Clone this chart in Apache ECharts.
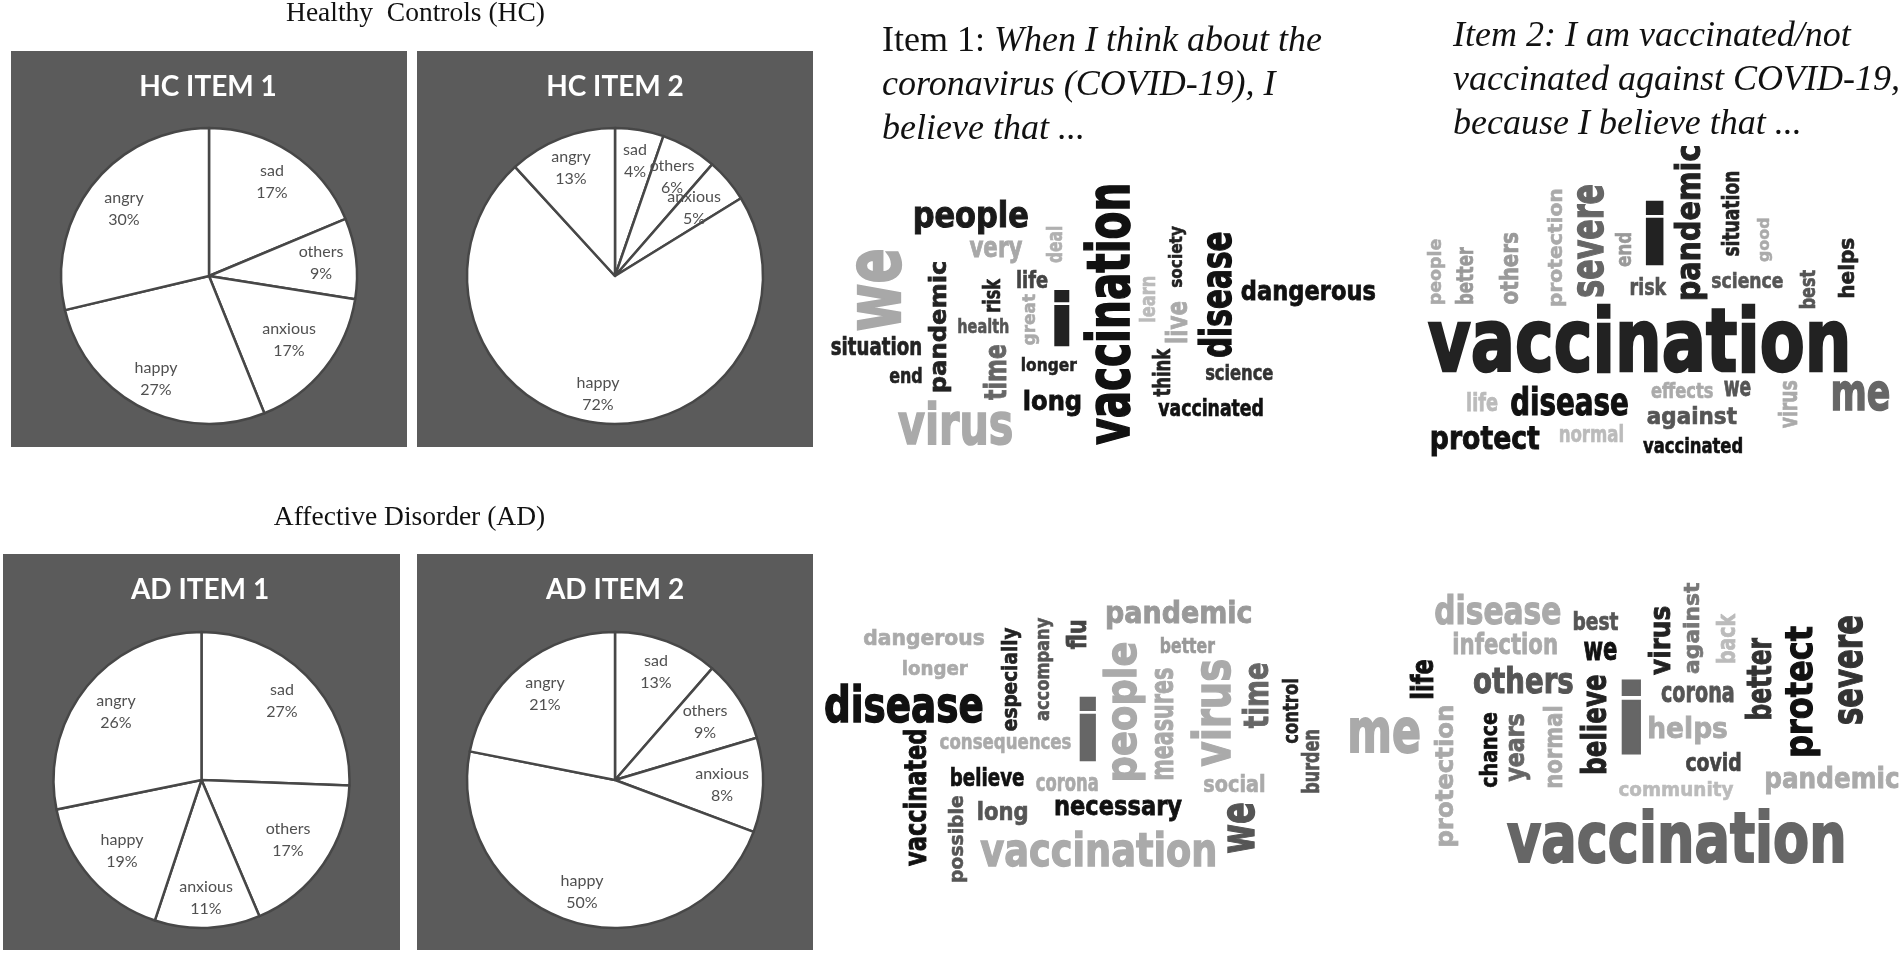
<!DOCTYPE html>
<html>
<head>
<meta charset="utf-8">
<title>Pie charts and word clouds</title>
<style>
    html, body { margin: 0; padding: 0; background: #fff; }
    #chart { width: 1902px; height: 954px; }
</style>
<script src="https://cdn.jsdelivr.net/npm/echarts@6/dist/echarts.min.js"></script>
</head>
<body>
<div id="chart"></div>
<script>
// pie categories, clockwise from 12 o'clock
const emotions = ["sad", "others", "anxious", "happy", "angry"];

// percentages as printed on the slices
const hcItem1Printed = [17, 9, 17, 27, 30];
const hcItem2Printed = [4, 6, 5, 72, 13];
const adItem1Printed = [27, 17, 11, 19, 26];
const adItem2Printed = [13, 9, 8, 50, 21];

// slice sizes as drawn, measured from the wedge angles (they differ a bit from the printed ones)
const hcItem1Drawn = [18.7, 8.8, 16.4, 27.4, 28.7];
const hcItem2Drawn = [5.3, 6.1, 4.8, 72, 11.8];
const adItem1Drawn = [25.6, 18, 11.5, 16.7, 28.2];
const adItem2Drawn = [11.4, 9, 10.3, 47.4, 21.9];

// word clouds: words, grey level of each word
const hcItem1Words = ["people", "very", "deal", "vaccination", "we", "pandemic", "risk", "life", "i", "learn", "society", "disease", "dangerous", "health", "great", "live", "situation", "end", "time", "longer", "think", "science", "long", "vaccinated", "virus"];
const hcItem1Greys = [26, 168, 176, 17, 168, 34, 34, 68, 34, 187, 34, 17, 17, 85, 170, 170, 34, 34, 102, 34, 34, 51, 17, 17, 170];
const hcItem2Words = ["people", "better", "others", "protection", "severe", "end", "i", "risk", "pandemic", "situation", "good", "science", "best", "helps", "vaccination", "effects", "we", "life", "disease", "virus", "me", "against", "protect", "normal", "vaccinated"];
const hcItem2Greys = [170, 153, 153, 170, 102, 153, 34, 85, 34, 34, 170, 85, 85, 34, 34, 170, 85, 187, 17, 170, 102, 85, 17, 187, 17];
const adItem1Words = ["pandemic", "dangerous", "especially", "accompany", "flu", "better", "longer", "people", "disease", "measures", "virus", "time", "control", "i", "burden", "vaccinated", "consequences", "believe", "corona", "social", "possible", "long", "necessary", "we", "vaccination"];
const adItem1Greys = [153, 170, 34, 85, 68, 153, 170, 170, 17, 170, 170, 102, 34, 102, 85, 17, 170, 17, 170, 170, 85, 85, 17, 85, 170];
const adItem2Words = ["disease", "best", "virus", "against", "back", "severe", "protect", "better", "infection", "we", "life", "others", "corona", "i", "believe", "helps", "protection", "me", "chance", "years", "normal", "covid", "pandemic", "community", "vaccination"];
const adItem2Greys = [170, 85, 34, 119, 187, 51, 17, 51, 170, 17, 17, 85, 85, 102, 34, 170, 170, 170, 17, 102, 170, 68, 170, 187, 102];

// layout only: word boxes [x0, y0, x1, y1] in cloud units, same order as the word lists
const hcItem1Boxes = [[265,600,582,705],[418,722,567,790],[632,680,680,788],[738,555,868,1335],[97,750,228,992],[303,785,368,1175],[455,835,505,935],[552,810,637,865],[655,868,698,1038],[892,830,940,965],[975,678,1025,862],[1060,697,1155,1072],[1180,838,1555,918],[387,952,528,1000],[567,882,615,1035],[968,905,1030,1028],[32,1010,283,1068],[195,1100,285,1150],[455,1035,522,1200],[565,1072,720,1125],[928,1045,980,1190],[1080,1092,1268,1142],[572,1165,730,1248],[947,1192,1240,1250],[218,1200,538,1335]];
const hcItem2Boxes = [[140,718,195,912],[228,740,283,912],[358,698,417,912],[503,568,560,918],[588,555,672,890],[705,698,755,800],[798,600,852,795],[753,832,862,888],[885,438,985,898],[1025,515,1080,768],[1130,655,1180,785],[997,812,1210,865],[1258,810,1310,925],[1372,715,1438,892],[143,910,1405,1118],[815,1142,1000,1195],[1033,1140,1113,1190],[262,1175,353,1235],[393,1158,745,1248],[1195,1142,1255,1285],[1360,1140,1530,1235],[803,1218,1072,1290],[155,1278,480,1370],[540,1272,730,1328],[790,1310,1088,1362]];
const adItem1Boxes = [[895,88,1330,180],[162,175,525,240],[575,172,638,482],[685,143,733,452],[768,152,833,238],[1058,198,1222,250],[280,270,477,330],[882,218,1012,630],[45,342,520,462],[1038,295,1097,628],[1145,270,1270,590],[1303,280,1383,475],[1422,328,1473,520],[812,382,862,575],[1483,480,1538,668],[280,480,352,888],[392,498,787,550],[425,590,645,650],[682,620,868,665],[1188,612,1370,668],[415,678,473,935],[507,695,655,768],[740,688,1122,755],[1255,700,1342,850],[513,780,1222,893]];
const adItem2Boxes = [[265,70,615,165],[652,122,777,182],[858,110,922,315],[955,38,1015,310],[1048,130,1105,278],[1385,138,1458,462],[1242,168,1342,558],[1130,202,1205,447],[317,187,605,255],[680,215,772,272],[195,270,262,385],[373,285,650,372],[897,345,1098,398],[785,330,840,552],[668,315,745,610],[862,437,1080,522],[262,408,330,828],[28,438,222,550],[388,428,440,652],[470,432,530,635],[565,410,622,652],[965,545,1118,605],[1188,588,1558,672],[778,632,1098,692],[465,715,1405,882]];

// layout only: pie label centres in px
const hcItem1Labels = [[272,182],[321,263],[289,340],[156,379],[124,209]];
const hcItem2Labels = [[635,161],[672,177],[694,208],[598,394],[571,168]];
const adItem1Labels = [[282,701],[288,840],[206,898],[122,851],[116,712]];
const adItem2Labels = [[656,672],[705,722],[722,785],[582,892],[545,694]];

const PANEL = "#5b5b5b";
const pieRadius = 148;

const chart = echarts.init(document.getElementById("chart"), null, {renderer: "canvas"});

function panelRect(x0, y0, x1, y1) {
    return {
        type: "rect",
        silent: true,
        shape: {x: x0, y: y0, width: x1 - x0, height: y1 - y0},
        style: {fill: PANEL}
    };
}

function panelTitle(text, x, y) {
    return {
        text: text,
        left: x,
        top: y,
        textAlign: "center",
        textVerticalAlign: "middle",
        padding: 0,
        textStyle: {fontFamily: "Lato", fontWeight: 700, fontSize: 28, color: "#fff", letterSpacing: 2.2}
    };
}

function captionTitle(text, x, y) {
    return {
        text: text,
        left: x,
        top: y,
        textAlign: "center",
        textVerticalAlign: "middle",
        padding: 0,
        textStyle: {fontFamily: "Liberation Serif", fontWeight: 400, fontSize: 27.5, color: "#111"}
    };
}

function itemTitle(text, x, y) {
    return {
        text: text,
        left: x,
        top: y,
        padding: 0,
        textStyle: {
            fontFamily: "Liberation Serif",
            fontWeight: 400,
            fontSize: 36,
            lineHeight: 44,
            rich: {
                n: {fontFamily: "Liberation Serif", fontWeight: 400, fontSize: 36, lineHeight: 44, color: "#111"},
                i: {fontFamily: "Liberation Serif", fontWeight: 400, fontSize: 36, lineHeight: 44, color: "#111", fontStyle: "italic"}
            }
        }
    };
}

function pieSeries(center, drawn, printed, labelPos) {
    return {
        type: "pie",
        silent: true,
        clockwise: true,
        startAngle: 90,
        center: center,
        radius: pieRadius,
        avoidLabelOverlap: false,
        data: emotions.map(function (name, i) {
            return {name: name, value: drawn[i]};
        }),
        itemStyle: {color: "#fff", borderColor: "#474747", borderWidth: 2.5},
        label: {
            show: true,
            position: "inside",
            formatter: function (p) {
                return p.name + "\n" + printed[p.dataIndex] + "%";
            },
            fontFamily: "Lato",
            fontSize: 16,
            lineHeight: 22,
            color: "#505050"
        },
        labelLine: {show: false},
        labelLayout: function (p) {
            return {x: labelPos[p.dataIndex][0], y: labelPos[p.dataIndex][1], align: "center", verticalAlign: "middle"};
        }
    };
}

// heavy condensed look of the clouds: bold face squeezed to the word's box, thickened with a small stroke
const measureCtx = document.createElement("canvas").getContext("2d");
const WORD_FONT = 'bold 100px "DejaVu Sans"';
const WORD_STROKE = 3;

function inkOf(word) {
    measureCtx.font = WORD_FONT;
    measureCtx.textAlign = "left";
    measureCtx.textBaseline = "middle";
    const m = measureCtx.measureText(word);
    return {
        w: m.actualBoundingBoxLeft + m.actualBoundingBoxRight + WORD_STROKE,
        h: m.actualBoundingBoxAscent + m.actualBoundingBoxDescent + WORD_STROKE,
        cx: (m.actualBoundingBoxRight - m.actualBoundingBoxLeft) / 2,
        cy: (m.actualBoundingBoxDescent - m.actualBoundingBoxAscent) / 2
    };
}

function cloudSeries(gridIndex, words, greys, boxes) {
    return {
        type: "custom",
        silent: true,
        coordinateSystem: "cartesian2d",
        xAxisIndex: gridIndex,
        yAxisIndex: gridIndex,
        clip: false,
        data: boxes,
        renderItem: function (params, api) {
            const i = params.dataIndex;
            const a = api.coord([api.value(0), api.value(1)]);
            const b = api.coord([api.value(2), api.value(3)]);
            const boxW = b[0] - a[0], boxH = b[1] - a[1];
            const cx = (a[0] + b[0]) / 2, cy = (a[1] + b[1]) / 2;
            const word = words[i];
            const upright = boxW > boxH || word === "i";
            const ink = inkOf(word);
            const sx = (upright ? boxW : boxH) / ink.w;
            const sy = (upright ? boxH : boxW) / ink.h;
            const ox = ink.cx * sx, oy = ink.cy * sy;
            const g = greys[i];
            const col = "rgb(" + g + "," + g + "," + g + ")";
            return {
                type: "text",
                x: upright ? cx - ox : cx - oy,
                y: upright ? cy - oy : cy + ox,
                rotation: upright ? 0 : Math.PI / 2,
                scaleX: sx,
                scaleY: sy,
                style: {
                    text: word,
                    font: WORD_FONT,
                    align: "left",
                    verticalAlign: "middle",
                    fill: col,
                    stroke: col,
                    lineWidth: WORD_STROKE,
                    lineJoin: "round"
                }
            };
        }
    };
}

// one hidden grid per cloud
const cloudFrames = [
    {left: 820, top: 0, width: 560, height: 470, xMax: 1568, yMax: 1410},
    {left: 1380, top: 0, width: 522, height: 470, xMax: 1568, yMax: 1410},
    {left: 810, top: 570, width: 520, height: 340, xMax: 1568, yMax: 1020},
    {left: 1340, top: 570, width: 562, height: 340, xMax: 1568, yMax: 1020}
];

const option = {
    animation: false,
    backgroundColor: "#fff",
    graphic: {
        elements: [
            panelRect(11, 51, 407, 447),
            panelRect(417, 51, 813, 447),
            panelRect(3, 554, 400, 950),
            panelRect(417, 554, 813, 950)
        ]
    },
    title: [
        captionTitle("Healthy  Controls (HC)", 415.5, 14),
        captionTitle("Affective Disorder (AD)", 409.5, 518),
        panelTitle("HC ITEM 1", 208, 87),
        panelTitle("HC ITEM 2", 615, 87),
        panelTitle("AD ITEM 1", 200, 590),
        panelTitle("AD ITEM 2", 615, 590),
        itemTitle("{n|Item 1: }{i|When I think about the}\n{i|coronavirus (COVID-19), I}\n{i|believe that ...}", 882, 20),
        itemTitle("{i|Item 2: I am vaccinated/not}\n{i|vaccinated against COVID-19,}\n{i|because I believe that ...}", 1453, 15)
    ],
    grid: cloudFrames.map(function (f) {
        return {left: f.left, top: f.top, width: f.width, height: f.height, show: false};
    }),
    xAxis: cloudFrames.map(function (f, i) {
        return {type: "value", gridIndex: i, min: 0, max: f.xMax, show: false};
    }),
    yAxis: cloudFrames.map(function (f, i) {
        return {type: "value", gridIndex: i, min: 0, max: f.yMax, inverse: true, show: false};
    }),
    series: [
        pieSeries([209, 276], hcItem1Drawn, hcItem1Printed, hcItem1Labels),
        pieSeries([615, 276], hcItem2Drawn, hcItem2Printed, hcItem2Labels),
        pieSeries([201.5, 780], adItem1Drawn, adItem1Printed, adItem1Labels),
        pieSeries([615, 780], adItem2Drawn, adItem2Printed, adItem2Labels),
        cloudSeries(0, hcItem1Words, hcItem1Greys, hcItem1Boxes),
        cloudSeries(1, hcItem2Words, hcItem2Greys, hcItem2Boxes),
        cloudSeries(2, adItem1Words, adItem1Greys, adItem1Boxes),
        cloudSeries(3, adItem2Words, adItem2Greys, adItem2Boxes)
    ]
};

chart.setOption(option);
</script>
</body>
</html>
